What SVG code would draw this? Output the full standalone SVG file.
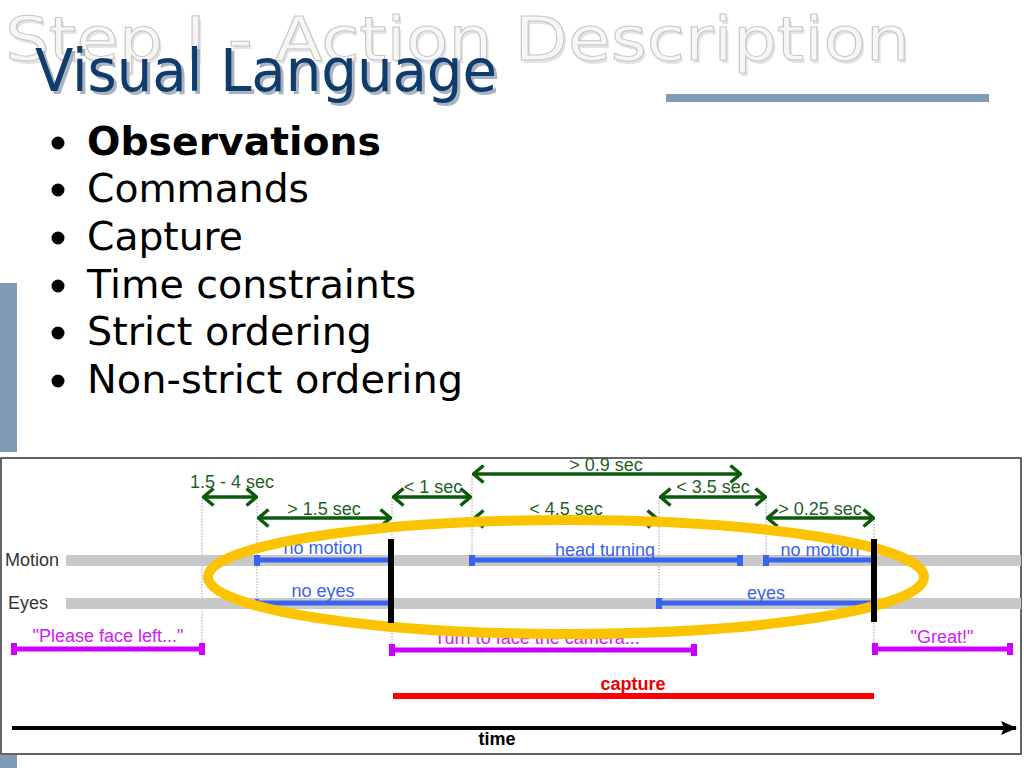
<svg xmlns="http://www.w3.org/2000/svg" width="1024" height="768" viewBox="0 0 1024 768">
<defs>
<style>
.dg{font-family:"Liberation Sans",Arial,sans-serif;font-size:18px}
.gl{fill:#1f5f1f;text-anchor:middle}
.bl{fill:#3b62e8;text-anchor:middle}
.mg{fill:#cc22ee;text-anchor:middle}
.gar{stroke:#0b5a0b;stroke-width:3.5;fill:none}
.guide{stroke:#8a8a8a;stroke-width:0.8;stroke-dasharray:1.5 1.5;fill:none}
.track{fill:#c8c8c8}
.seg{fill:#3a64ee}
.mag{fill:#cc00ff}
.bul{font-family:"DejaVu Sans",Verdana,sans-serif;font-size:39px;fill:#000}
</style>
<marker id="chev" viewBox="0 0 13 20" refX="12" refY="10" markerWidth="13" markerHeight="20" markerUnits="userSpaceOnUse" orient="auto-start-reverse">
<path d="M1.5,1.5 L11.5,10 L1.5,18.5" fill="none" stroke="#0b5a0b" stroke-width="3.5" stroke-linejoin="miter"/>
</marker>
<marker id="tri" viewBox="0 0 16 16" refX="15" refY="8" markerWidth="16" markerHeight="16" markerUnits="userSpaceOnUse" orient="auto">
<path d="M0,1 L16,8 L0,15 L3,8 Z" fill="#000"/>
</marker>
</defs>
<rect width="1024" height="768" fill="#fff"/>

<g id="slide-decor">
<rect x="0" y="283" width="17" height="169" fill="#7f9bb5"/>
<rect x="0" y="755" width="17" height="13" fill="#7f9bb5"/>
<rect x="666" y="94" width="323" height="8" fill="#7f9bb5"/>
</g>

<g id="title">
<text x="7" y="63" font-family="'DejaVu Sans',Verdana,sans-serif" font-size="60" fill="#e4e4e4" textLength="905" lengthAdjust="spacingAndGlyphs">Step I - Action Description</text>
<text x="5" y="60" font-family="'DejaVu Sans',Verdana,sans-serif" font-size="60" fill="#f6f6f6" stroke="#c6c6c6" stroke-width="1" textLength="905" lengthAdjust="spacingAndGlyphs">Step I - Action Description</text>
<text x="38" y="94" font-family="'DejaVu Sans Condensed','DejaVu Sans',Tahoma,sans-serif" font-size="58" fill="#a9b3bd" textLength="462" lengthAdjust="spacingAndGlyphs">Visual Language</text>
<text x="35" y="91" font-family="'DejaVu Sans Condensed','DejaVu Sans',Tahoma,sans-serif" font-size="58" fill="#0f3c6c" textLength="462" lengthAdjust="spacingAndGlyphs">Visual Language</text>
</g>

<g id="bullets">
<circle cx="58" cy="143" r="6.5"/>
<circle cx="58" cy="190" r="6.5"/>
<circle cx="58" cy="238" r="6.5"/>
<circle cx="58" cy="286" r="6.5"/>
<circle cx="58" cy="333" r="6.5"/>
<circle cx="58" cy="381" r="6.5"/>
<text class="bul" x="87" y="155" font-weight="bold" textLength="294" lengthAdjust="spacingAndGlyphs">Observations</text>
<text class="bul" x="87" y="202" textLength="222" lengthAdjust="spacingAndGlyphs">Commands</text>
<text class="bul" x="87" y="250" textLength="156" lengthAdjust="spacingAndGlyphs">Capture</text>
<text class="bul" x="87" y="298" textLength="329" lengthAdjust="spacingAndGlyphs">Time constraints</text>
<text class="bul" x="87" y="345" textLength="285" lengthAdjust="spacingAndGlyphs">Strict ordering</text>
<text class="bul" x="87" y="393" textLength="376" lengthAdjust="spacingAndGlyphs">Non-strict ordering</text>
</g>

<rect id="panel" x="1" y="458" width="1020" height="296" fill="#fff" stroke="#333" stroke-width="1.5"/>

<g id="guides">
<line class="guide" x1="202" y1="497" x2="202" y2="648"/>
<line class="guide" x1="257" y1="497" x2="257" y2="603"/>
<line class="guide" x1="392" y1="498" x2="392" y2="648"/>
<line class="guide" x1="472" y1="475" x2="472" y2="560"/>
<line class="guide" x1="659" y1="497" x2="659" y2="603"/>
<line class="guide" x1="766" y1="497" x2="766" y2="560"/>
<line class="guide" x1="874" y1="518" x2="874" y2="648"/>
</g>

<g id="motion-track">
<text class="dg" x="5" y="566" fill="#333">Motion</text>
<rect class="track" x="66" y="555" width="955" height="11"/>
</g>
<g id="eyes-track">
<text class="dg" x="8" y="609" fill="#333">Eyes</text>
<rect class="track" x="66" y="598" width="955" height="11"/>
</g>

<g id="no-motion-1">
<rect class="seg" x="257" y="557.5" width="131" height="5"/>
<rect class="seg" x="254" y="555" width="6" height="11"/>
<text class="dg bl" x="323" y="554">no motion</text>
</g>
<g id="head-turning">
<rect class="seg" x="472" y="557.5" width="269" height="5"/>
<rect class="seg" x="469" y="555" width="6" height="11"/>
<rect class="seg" x="737" y="555" width="6" height="11"/>
<text class="dg bl" x="605" y="556">head turning</text>
</g>
<g id="no-motion-2">
<rect class="seg" x="766" y="557.5" width="107" height="5"/>
<rect class="seg" x="763" y="555" width="6" height="11"/>
<text class="dg bl" x="820" y="556">no motion</text>
</g>
<g id="no-eyes">
<rect class="seg" x="257" y="600.5" width="131" height="5"/>
<rect class="seg" x="255" y="599" width="4" height="7"/>
<text class="dg bl" x="323" y="597">no eyes</text>
</g>
<g id="eyes">
<rect class="seg" x="659" y="600.5" width="214" height="5"/>
<rect class="seg" x="656" y="598" width="6" height="11"/>
<text class="dg bl" x="766" y="599">eyes</text>
</g>

<g id="cmd-please">
<rect class="mag" x="13" y="646.5" width="189" height="5"/>
<rect class="mag" x="11" y="643" width="6" height="12"/>
<rect class="mag" x="199" y="643" width="6" height="12"/>
<text class="dg mg" x="108" y="642">"Please face left..."</text>
</g>
<g id="cmd-turn">
<rect class="mag" x="391" y="647.5" width="303" height="5"/>
<rect class="mag" x="389" y="644" width="6" height="12"/>
<rect class="mag" x="691" y="644" width="6" height="12"/>
<text class="dg mg" x="537" y="644">"Turn to face the camera..."</text>
</g>
<g id="cmd-great">
<rect class="mag" x="874" y="646.5" width="136" height="5"/>
<rect class="mag" x="872" y="643" width="6" height="12"/>
<rect class="mag" x="1007" y="643" width="6" height="12"/>
<text class="dg mg" x="942" y="643">"Great!"</text>
</g>

<g id="capture">
<rect x="393" y="693" width="481" height="6" fill="#ff0000"/>
<text class="dg" x="633" y="690" fill="#ee0000" font-weight="bold" text-anchor="middle">capture</text>
</g>

<g id="time-axis">
<line x1="12" y1="728" x2="1016" y2="728" stroke="#000" stroke-width="4" marker-end="url(#tri)"/>
<text class="dg" x="497" y="745" fill="#000" font-weight="bold" text-anchor="middle" font-size="17">time</text>
</g>

<g id="connectors">
<line class="gar" x1="203" y1="497" x2="257" y2="497" marker-start="url(#chev)" marker-end="url(#chev)"/>
<line class="gar" x1="258" y1="518" x2="391" y2="518" marker-start="url(#chev)" marker-end="url(#chev)"/>
<line class="gar" x1="393" y1="497" x2="471" y2="497" marker-start="url(#chev)" marker-end="url(#chev)"/>
<line class="gar" x1="473" y1="474" x2="741" y2="474" marker-start="url(#chev)" marker-end="url(#chev)"/>
<line class="gar" x1="473" y1="519" x2="658" y2="519" marker-start="url(#chev)" marker-end="url(#chev)"/>
<line class="gar" x1="660" y1="497" x2="766" y2="497" marker-start="url(#chev)" marker-end="url(#chev)"/>
<line class="gar" x1="767" y1="518" x2="874" y2="518" marker-start="url(#chev)" marker-end="url(#chev)"/>
</g>

<g id="constraint-labels">
<text class="dg gl" x="232" y="488">1.5 - 4 sec</text>
<text class="dg gl" x="324" y="515">&gt; 1.5 sec</text>
<text class="dg gl" x="433" y="493">&lt; 1 sec</text>
<text class="dg gl" x="606" y="471">&gt; 0.9 sec</text>
<text class="dg gl" x="566" y="515">&lt; 4.5 sec</text>
<text class="dg gl" x="713" y="493">&lt; 3.5 sec</text>
<text class="dg gl" x="820" y="515">&gt; 0.25 sec</text>
</g>

<ellipse id="highlight" cx="566" cy="577" rx="358" ry="57" fill="none" stroke="#fcc400" stroke-width="10"/>

<g id="sync-bars">
<rect x="388" y="539" width="6" height="84" fill="#000"/>
<rect x="871" y="539" width="6" height="83" fill="#000"/>
</g>
</svg>
